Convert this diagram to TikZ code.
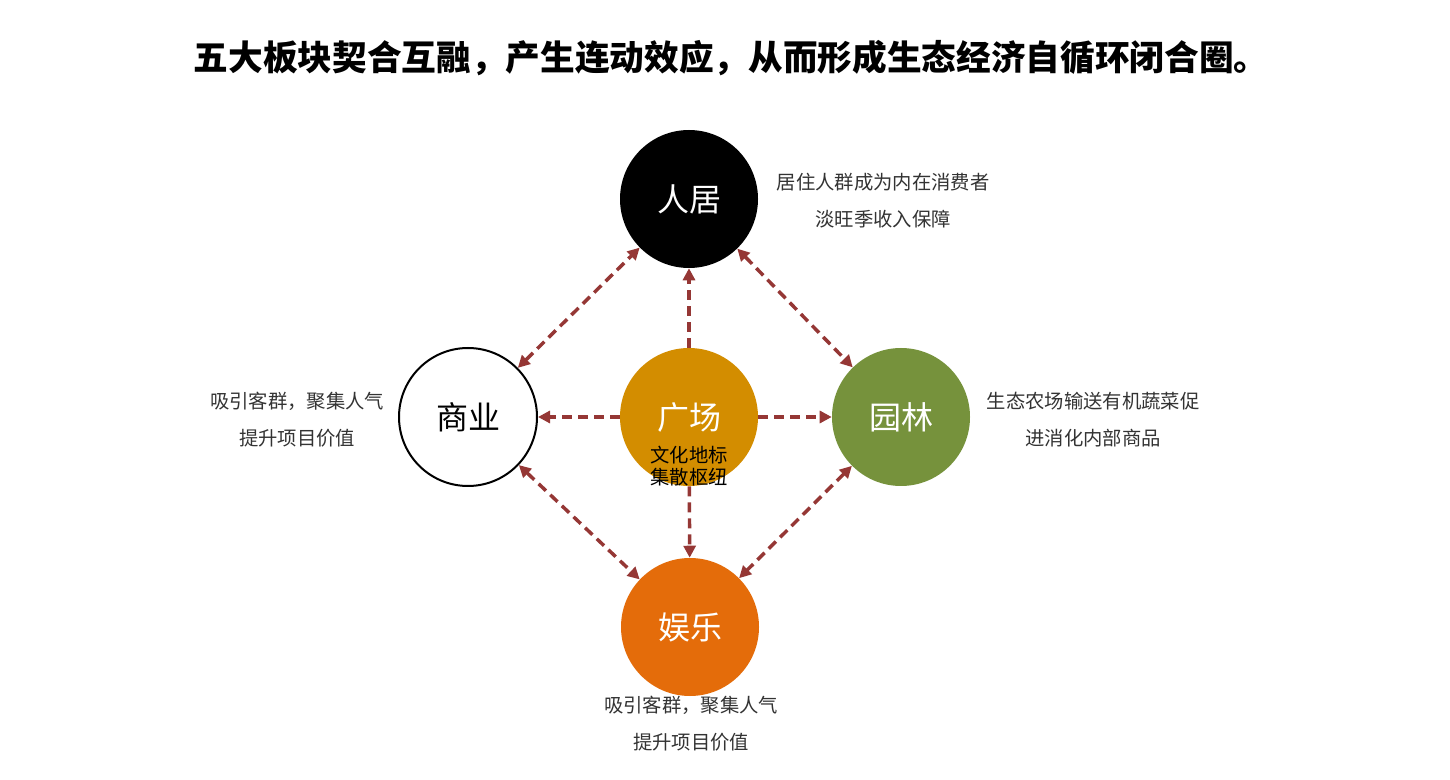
\documentclass[tikz,border=0pt]{standalone}
\usepackage{fontspec}
\setmainfont{Noto Sans CJK SC}
\newfontfamily\cjk{Noto Sans CJK SC}
\usetikzlibrary{arrows.meta}
\definecolor{arrowred}{HTML}{953735}
\definecolor{plazaY}{HTML}{D38D00}
\definecolor{gardenG}{HTML}{76923C}
\definecolor{funO}{HTML}{E46C0A}
\definecolor{notegray}{HTML}{333333}
\tikzset{
  hub/.style={circle, minimum size=103.5pt, inner sep=0pt, font=\cjk\fontsize{24}{28}\selectfont},
  note/.style={align=center, text=notegray, font=\cjk\fontsize{14.5}{27.75}\selectfont},
  conn/.style={draw=arrowred, line width=2.6pt, dash pattern=on 7.5pt off 4.5pt,
    arrows={-Triangle[length=9pt,width=9pt]}},
  conn2/.style={conn, arrows={Triangle[length=9pt,width=9pt]-Triangle[length=9pt,width=9pt]}}
}
\begin{document}
\begin{tikzpicture}[x=0.75pt,y=-0.75pt]
\useasboundingbox[fill=white] (0,0) rectangle (1450,780);
\node[font=\cjk\bfseries\fontsize{26}{30}\selectfont] (title) at (731,58) {五大板块契合互融，产生连动效应，从而形成生态经济自循环闭合圈。};

\node[hub, fill=black, text=white] (rj) at (689,199) {人居};
\node[hub, fill=white, draw=black, line width=1.5pt] (sy) at (468,417) {商业};
\node[hub, fill=plazaY, text=white] (gc) at (689,417) {};
\node[hub, fill=gardenG, text=white] (yl) at (901,417) {园林};
\node[hub, fill=funO, text=white] (yle) at (690,627) {娱乐};

\node[text=white, font=\cjk\fontsize{24}{28}\selectfont] (gct) at (689,417) {广场};
\node[align=center, font=\cjk\fontsize{14.5}{17}\selectfont] (gcs) at (689,466) {文化地标\\集散枢纽};

\node[note] (nrj) at (883,201) {居住人群成为内在消费者\\淡旺季收入保障};
\node[note] (nsy) at (297,420) {吸引客群，聚集人气\\提升项目价值};
\node[note] (nyl) at (1093,420) {生态农场输送有机蔬菜促\\进消化内部商品};
\node[note] (nyle) at (691,724) {吸引客群，聚集人气\\提升项目价值};

\draw[conn2] (sy) -- (rj);
\draw[conn2] (rj) -- (yl);
\draw[conn2] (sy) -- (yle);
\draw[conn2] (yl) -- (yle);
\draw[conn] (gc) -- (rj);
\draw[conn] (gc) -- (sy);
\draw[conn] (gc) -- (yl);
\draw[conn] (gc) -- (yle);
\end{tikzpicture}
\end{document}
